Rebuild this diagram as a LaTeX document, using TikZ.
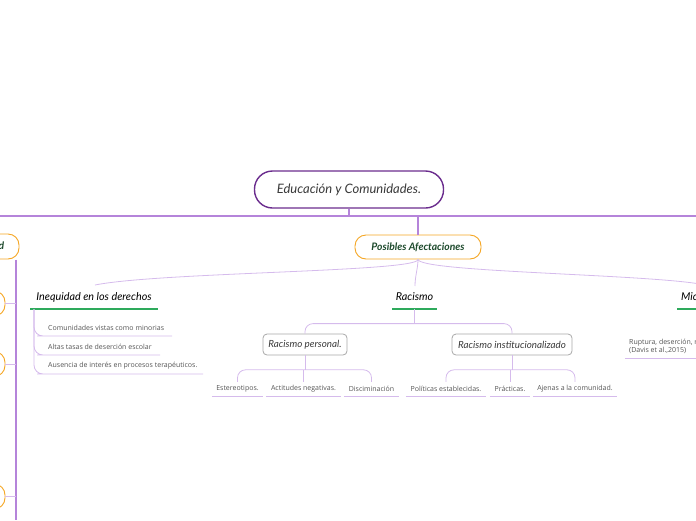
\documentclass[tikz,border=0pt]{standalone}
\usepackage{fontspec}
\setmainfont{Open Sans}
\newfontfamily\hand{Lato}
\usetikzlibrary{calc}
\definecolor{mainpurple}{HTML}{6B2D8E}
\definecolor{linep}{HTML}{B584DA}
\definecolor{thinp}{HTML}{D5BBEC}
\definecolor{orng}{HTML}{F5A623}
\definecolor{grn}{HTML}{2EAA5C}
\definecolor{dgreen}{HTML}{1D4A2C}
\definecolor{txtg}{HTML}{3A3A3A}
\definecolor{smallg}{HTML}{555555}
\definecolor{boxg}{HTML}{A8A8A8}
\begin{document}
\begin{tikzpicture}[x=1pt,y=-1pt,
 mainbox/.style={draw=mainpurple,line width=1.4pt,rounded corners=18pt,fill=white,minimum width=189pt,minimum height=37pt,font=\hand\itshape\fontsize{13}{15}\selectfont,text=txtg},
 orbox/.style={draw=orng,line width=0.9pt,rounded corners=11pt,fill=white,minimum height=25pt,font=\hand\itshape\bfseries\fontsize{10.3}{12}\selectfont,text=dgreen},
 graybox/.style={draw=boxg,line width=0.8pt,rounded corners=4pt,fill=white,minimum height=21pt,font=\hand\itshape\fontsize{9.8}{11}\selectfont,text=txtg},
 head/.style={font=\hand\itshape\fontsize{10.8}{12}\selectfont,text=black,inner sep=0pt},
 small/.style={font=\fontsize{7}{8.2}\selectfont,text=smallg,inner sep=0pt},
 leaf/.style={small,minimum height=14pt},
 thick line/.style={draw=linep,line width=1.3pt},
 thin line/.style={draw=thinp,line width=0.8pt},
 grnline/.style={draw=grn,line width=1.2pt},
 leafline/.style={draw=thinp,line width=0.8pt}]
\useasboundingbox (0,0) rectangle (696,520);

% top level
\node[mainbox] (main) at (349,189.5) {Educación y Comunidades.};
\coordinate (hl) at (0,216);
\coordinate (hr) at (696,216);
\coordinate (hm) at (349,216);
\coordinate (hp) at (418,216);
\draw[thick line] (hl) -- (hr);
\draw[thick line] (main.south) -- (hm);

% left cut-off branch
\node[orbox,minimum width=80pt] (leftn) at (-21,246.5) {};
\node[font=\hand\itshape\bfseries\fontsize{10.3}{12}\selectfont,text=dgreen,inner sep=0pt] (leftd) at (1.5,246) {d};
\coordinate (lv) at (16,259.5);
\coordinate (lb) at (16,520);
\draw[thick line] (lv) -- (lb);
\node[orbox,minimum width=50pt] (o1) at (-20,303.5) {};
\node[orbox,minimum width=50pt] (o2) at (-20,364) {};
\node[orbox,minimum width=50pt] (o3) at (-20,496.5) {};
\draw[thin line,line width=1pt] (o1.east) -- (16,303.5);
\draw[thin line,line width=1pt] (o2.east) -- (16,364);
\draw[thin line,line width=1pt] (o3.east) -- (16,496.5);

% Posibles Afectaciones
\node[orbox,minimum width=126pt,minimum height=24pt] (pos) at (418,247) {Posibles Afectaciones};
\draw[thick line] (hp) -- (pos.north);

% second level headers
\node[head] (ineq) at (94,297) {Inequidad en los derechos};
\coordinate (ineqL) at (30,309);
\coordinate (ineqR) at (158,309);
\coordinate (ineqT) at (95,285);
\draw[grnline] (ineqL) -- (ineqR);

\node[head] (rac) at (414.5,296.5) {Racismo};
\coordinate (racL) at (392,309);
\coordinate (racR) at (437,309);
\coordinate (racT) at (415,286);
\coordinate (racB) at (414.5,309);
\draw[grnline] (racL) -- (racR);

\node[head,anchor=west] (mic) at (681,297) {Mic};
\coordinate (micL) at (677,309);
\coordinate (micR) at (700,309);
\coordinate (micT) at (700,284);
\draw[grnline] (micL) -- (micR);

\draw[thin line] (pos.south) .. controls (418,272) and (160,272) .. (ineqT);
\draw[thin line] (pos.south) .. controls (418,268) and (415,276) .. (racT);
\draw[thin line] (pos.south) .. controls (420,272) and (640,274) .. (micT);

% Inequidad items
\node[small,anchor=west] (i1) at (48,328) {Comunidades vistas como minorias};
\node[small,anchor=west] (i2) at (48,347) {Altas tasas de deserción escolar};
\node[small,anchor=west] (i3) at (48,366) {Ausencia de interés en procesos terapéuticos.};
\coordinate (i1s) at (46,336); \coordinate (i1e) at (172,336);
\coordinate (i2s) at (46,355); \coordinate (i2e) at (160,355);
\coordinate (i3s) at (46,374); \coordinate (i3e) at (203,374);
\coordinate (ineqV) at (34,309);
\draw[thin line,rounded corners=9pt] (ineqV) |- (i1s) -- (i1e);
\draw[thin line,rounded corners=9pt] (ineqV) |- (i2s) -- (i2e);
\draw[thin line,rounded corners=9pt] (ineqV) |- (i3s) -- (i3e);

% Racismo subnodes
\node[graybox,minimum width=84pt] (rp) at (305,344.5) {Racismo personal.};
\node[graybox,minimum width=120pt] (ri) at (512,344.5) {Racismo institucionalizado};
\coordinate (rj) at (414.5,324);
\draw[thin line] (racB) -- (rj);
\draw[thin line,rounded corners=8pt] (rp.north) -- ++(0,-10) -| (ri.north);

% leaves personal
\node[leaf,minimum width=51pt] (est) at (237.5,389) {Estereotipos.};
\node[leaf,minimum width=75pt] (act) at (303.5,389) {Actitudes negativas.};
\node[leaf,minimum width=55pt] (dis) at (371.5,389) {Disciminación};
\foreach \n in {est,act,dis} \draw[leafline] (\n.south west) -- (\n.south east);
\coordinate (rpj) at (305,370);
\draw[thin line] (rp.south) -- (rpj);
\draw[thin line,rounded corners=8pt] (est.north) -- ++(0,-12) -| (dis.north);
\draw[thin line] (act.north) -- (act.north |- rpj);

% leaves institutional
\node[leaf,minimum width=80pt] (pol) at (446,389) {Políticas establecidas.};
\node[leaf,minimum width=40pt] (pra) at (510,389) {Prácticas.};
\node[leaf,minimum width=84pt] (aje) at (575,389) {Ajenas a la comunidad.};
\foreach \n in {pol,pra,aje} \draw[leafline] (\n.south west) -- (\n.south east);
\coordinate (rij) at (512,370);
\draw[thin line] (ri.south) -- (rij);
\draw[thin line,rounded corners=8pt] (pol.north) -- ++(0,-12) -| (aje.north);
\draw[thin line] (pra.north) -- (pra.north |- rij);

% Mic items
\node[small,anchor=west,align=left] (m1) at (629,346.5) {Ruptura, deserción, r\\[0.5pt](Davis et al.,2015)};
\coordinate (m1s) at (625,358); \coordinate (m1e) at (700,358);
\draw[leafline] (m1s) -- (m1e);
\end{tikzpicture}
\end{document}
